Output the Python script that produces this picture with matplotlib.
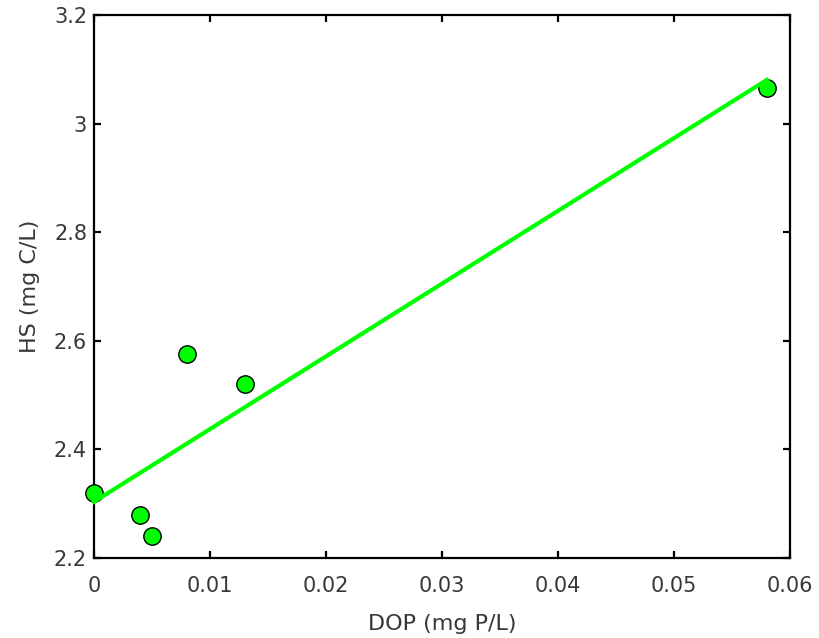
import numpy as np
import matplotlib
matplotlib.use("Agg")
import matplotlib.pyplot as plt

plt.rcParams['font.family'] = ['DejaVu Sans']

# Dissolved organic phosphorus vs humic substances
dop = [0.0, 0.004, 0.005, 0.008, 0.013, 0.058]
hs = [2.32, 2.28, 2.24, 2.575, 2.52, 3.065]
x_ticks = [0, 0.01, 0.02, 0.03, 0.04, 0.05, 0.06]
x_labels = ["0", "0.01", "0.02", "0.03", "0.04", "0.05", "0.06"]
y_ticks = [2.2, 2.4, 2.6, 2.8, 3.0, 3.2]
y_labels = ["2.2", "2.4", "2.6", "2.8", "3", "3.2"]

green = "#00ff00"
text_color = "#383838"

fig = plt.figure(figsize=(8.19, 6.38), dpi=100)
ax = fig.add_axes([0.1148, 0.1254, 0.8498, 0.851])

ax.plot(dop, hs, linestyle="none", marker="o", markersize=12.5,
        markerfacecolor=green, markeredgecolor="black", markeredgewidth=1.0,
        clip_on=False, zorder=3)

# least-squares linear fit across the data range
slope, intercept = np.polyfit(dop, hs, 1)
xf = np.array([min(dop), max(dop)])
ax.plot(xf, intercept + slope * xf, color=green, linewidth=3.0,
        clip_on=False, zorder=4)

ax.set_xlim(0, 0.06)
ax.set_ylim(2.2, 3.2)
ax.set_xticks(x_ticks)
ax.set_xticklabels(x_labels)
ax.set_yticks(y_ticks)
ax.set_yticklabels(y_labels)

ax.tick_params(direction="in", length=5, width=1.6, top=True, right=True,
               labelsize=15, labelcolor=text_color)
ax.tick_params(axis="x", pad=13)
ax.tick_params(axis="y", pad=5)
for s in ax.spines.values():
    s.set_linewidth(1.6)

ax.set_xlabel("DOP (mg P/L)", fontsize=16, color=text_color, labelpad=13)
ax.set_ylabel("HS (mg C/L)", fontsize=16, color=text_color, labelpad=10)

fig.savefig("out.png", dpi=100)
